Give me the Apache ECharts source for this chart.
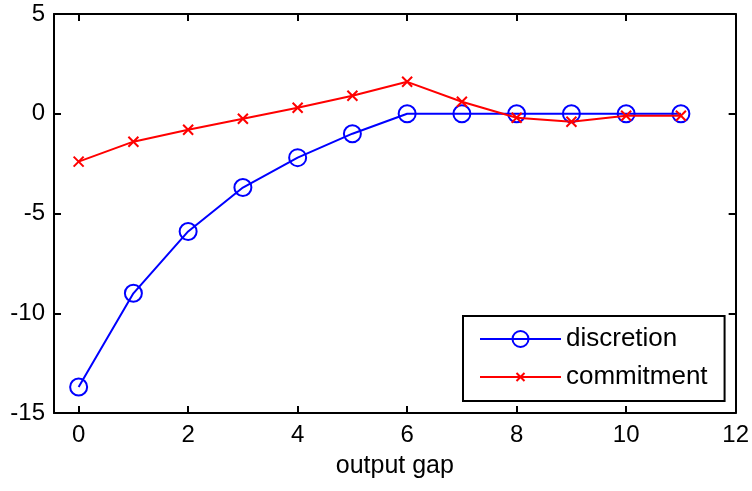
<!DOCTYPE html>
<html>
<head>
<meta charset="utf-8">
<script src="https://cdn.jsdelivr.net/npm/echarts@6/dist/echarts.min.js"></script>
<style>
  html, body { margin: 0; padding: 0; background: #fff; }
  #main { width: 752px; height: 491px; }
</style>
</head>
<body>
<div id="main"></div>
<script>
// periods on the x axis
var periods = [0, 1, 2, 3, 4, 5, 6, 7, 8, 9, 10, 11];
var discretion = [-13.7, -9.0, -5.9, -3.7, -2.2, -1.0, 0, 0, 0, 0, 0, 0];
var commitment = [-2.4, -1.4, -0.8, -0.25, 0.3, 0.9, 1.6, 0.6, -0.2, -0.4, -0.1, -0.1];
var xTicks = [0, 2, 4, 6, 8, 10, 12];
var yTicks = [-15, -10, -5, 0, 5];

function pairs(ys) {
    return periods.map(function (x, i) { return [x, ys[i]]; });
}

var font = '"Liberation Sans", Arial, sans-serif';
// x marker, padded so it draws at half the symbol box
var crossPath = 'path://M-5,-5M15,15M0,0L10,10M10,0L0,10';

var axisLine = { onZero: false, lineStyle: { color: '#000', width: 2 } };
var tick = { inside: true, length: 7, lineStyle: { color: '#000', width: 2 } };

var myChart = echarts.init(document.getElementById('main'));
var option = {
    animation: false,
    backgroundColor: '#fff',
    grid: { left: 54, right: 16, top: 14, bottom: 78 },
    legend: {
        orient: 'vertical',
        left: 463, top: 316,
        padding: [10, 17, 11, 16],
        itemGap: 12,
        itemWidth: 81, itemHeight: 20,
        backgroundColor: '#fff',
        borderColor: '#000', borderWidth: 2, borderRadius: 0,
        textStyle: { fontFamily: font, fontSize: 26, color: '#000' },
        data: ['discretion', 'commitment']
    },
    xAxis: [
        {
            type: 'value', min: -0.45, max: 12,
            name: 'output gap', nameLocation: 'middle', nameGap: 41,
            nameTextStyle: { fontFamily: font, fontSize: 25, color: '#000' },
            axisLine: axisLine,
            axisTick: Object.assign({ customValues: xTicks }, tick),
            axisLabel: { customValues: xTicks, margin: 10, fontFamily: font, fontSize: 24, color: '#000' },
            splitLine: { show: false }
        },
        {
            type: 'value', min: -0.45, max: 12, position: 'top',
            axisLine: axisLine,
            axisTick: Object.assign({ customValues: xTicks }, tick),
            axisLabel: { show: false },
            splitLine: { show: false }
        }
    ],
    yAxis: [
        {
            type: 'value', min: -15, max: 5, interval: 5,
            axisLine: axisLine,
            axisTick: Object.assign({ customValues: yTicks }, tick),
            axisLabel: { customValues: yTicks, margin: 9, fontFamily: font, fontSize: 24, color: '#000' },
            splitLine: { show: false }
        },
        {
            type: 'value', min: -15, max: 5, interval: 5, position: 'right',
            axisLine: Object.assign({ show: true }, axisLine),
            axisTick: Object.assign({ show: true, customValues: yTicks }, tick),
            axisLabel: { show: false },
            splitLine: { show: false }
        }
    ],
    series: [
        {
            name: 'discretion',
            type: 'line',
            data: pairs(discretion),
            symbol: 'circle',
            symbolSize: 17,
            lineStyle: { color: '#0000ff', width: 2 },
            itemStyle: { color: 'rgba(0,0,0,0)', borderColor: '#0000ff', borderWidth: 2 },
            z: 2
        },
        {
            name: 'commitment',
            type: 'line',
            data: pairs(commitment),
            symbol: crossPath,
            symbolSize: 20,
            lineStyle: { color: '#ff0000', width: 2 },
            itemStyle: { color: '#ff0000', borderColor: '#ff0000', borderWidth: 2 },
            z: 3
        }
    ]
};
myChart.setOption(option);
</script>
</body>
</html>
